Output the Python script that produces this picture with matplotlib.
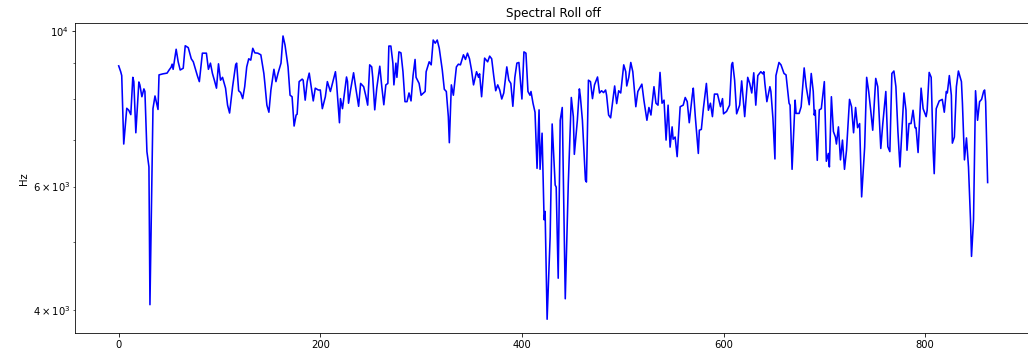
import matplotlib
matplotlib.use("Agg")
import matplotlib.pyplot as plt

# frame index and spectral roll-off (Hz)
frames = [
    0, 2, 3, 5, 8, 10, 12, 14, 15, 17, 20, 21, 23, 25, 26, 28, 30, 31, 34, 36,
    39, 40, 44, 48, 50, 52, 53, 54, 57, 59, 61, 64, 66, 69, 72, 74, 78, 80, 83, 87,
    89, 91, 93, 95, 97, 99, 101, 103, 106, 108, 110, 113, 116, 117, 119, 121, 123, 125, 127, 129,
    131, 133, 135, 138, 141, 144, 145, 147, 149, 151, 154, 156, 158, 161, 163, 165, 167, 168, 170, 172,
    174, 176, 177, 179, 182, 183, 185, 187, 189, 191, 193, 195, 198, 200, 202, 205, 207, 210, 212, 215,
    216, 219, 220, 222, 226, 227, 228, 230, 233, 235, 238, 240, 243, 245, 247, 249, 251, 252, 254, 256,
    259, 261, 263, 265, 267, 268, 270, 272, 273, 275, 276, 278, 280, 282, 284, 286, 288, 290, 292, 294,
    295, 298, 300, 304, 305, 308, 310, 312, 314, 316, 318, 321, 323, 325, 327, 328, 330, 332, 335, 337,
    339, 342, 344, 346, 348, 350, 352, 355, 357, 358, 360, 363, 366, 368, 370, 372, 374, 376, 378, 380,
    382, 385, 387, 389, 391, 393, 395, 397, 400, 402, 404, 406, 408, 409, 411, 413, 415, 417, 418, 420,
    422, 423, 425, 428, 430, 433, 434, 436, 438, 440, 443, 446, 449, 451, 452, 455, 457, 458, 460, 463,
    464, 466, 468, 470, 472, 475, 477, 479, 481, 483, 484, 486, 488, 490, 492, 494, 496, 498, 501, 503,
    504, 506, 508, 510, 513, 515, 519, 521, 524, 526, 528, 531, 533, 535, 537, 539, 541, 543, 545, 547,
    549, 550, 552, 554, 557, 560, 562, 564, 566, 569, 570, 572, 575, 576, 578, 580, 583, 585, 587, 589,
    591, 594, 597, 599, 600, 603, 606, 608, 609, 611, 613, 616, 618, 621, 624, 626, 628, 630, 632, 634,
    637, 639, 640, 641, 643, 646, 647, 649, 651, 652, 655, 657, 660, 662, 665, 666, 668, 671, 672, 675,
    677, 680, 682, 685, 687, 689, 690, 691, 693, 695, 697, 700, 702, 704, 705, 707, 709, 711, 712, 714,
    716, 718, 720, 722, 725, 727, 729, 731, 733, 735, 737, 740, 742, 744, 746, 748, 751, 753, 756, 758,
    761, 763, 765, 767, 769, 771, 773, 775, 777, 779, 781, 782, 784, 786, 788, 790, 791, 793, 796, 798,
    801, 802, 804, 806, 808, 809, 811, 814, 817, 819, 821, 822, 824, 826, 827, 829, 831, 833, 836, 837,
    839, 841, 843, 845, 846, 848, 850, 852, 854, 856, 858, 859, 860, 862,
]

rolloff_hz = [
    8920, 8750, 8640, 6900, 7760, 7710, 7600, 8590, 8470, 7160, 8460, 8380, 8060, 8270, 8200, 6730, 6400, 4070, 7750, 8080,
    7730, 8660, 8690, 8710, 8800, 8880, 8970, 8820, 9420, 9040, 8800, 8850, 9530, 9470, 9130, 9040, 8640, 8470, 9300, 9300,
    8820, 9000, 8700, 8500, 8290, 8980, 8510, 8590, 8290, 7840, 7640, 8330, 8950, 9000, 8220, 8170, 8010, 8330, 8890, 9130,
    9090, 9450, 9310, 9300, 9250, 8700, 8420, 7840, 7660, 8240, 8820, 8470, 8700, 9000, 9840, 9550, 9090, 8890, 8100, 8060,
    7320, 7590, 7610, 8470, 8540, 8510, 7970, 8470, 8710, 8330, 7950, 8290, 8240, 8240, 7750, 8060, 8470, 8200, 8420, 8750,
    8470, 7400, 8010, 7750, 8600, 8470, 7890, 8240, 8720, 8330, 7810, 8420, 8330, 8100, 7840, 8950, 8890, 8590, 7720, 8290,
    8910, 8330, 7850, 8380, 8420, 9520, 9520, 9000, 8380, 9000, 8590, 9340, 9310, 8750, 7930, 7930, 8160, 7950, 8640, 9110,
    8590, 8420, 8100, 8200, 8750, 9040, 8950, 9710, 9610, 9710, 9450, 8800, 8260, 8200, 7550, 6930, 8380, 8100, 8890, 8970,
    8950, 9250, 9110, 9300, 9130, 8800, 8380, 8750, 8590, 8690, 8060, 9150, 9040, 9210, 9130, 8640, 8220, 8380, 8240, 8000,
    8160, 8890, 8510, 8420, 7810, 8590, 9000, 9020, 8000, 9340, 9300, 8200, 8100, 8200, 7890, 7660, 6370, 7720, 6350, 7150,
    5380, 5530, 3880, 5090, 7370, 6030, 5990, 4440, 7460, 7780, 4150, 6060, 8040, 7550, 6670, 7460, 8270, 8060, 7460, 6130,
    6090, 8510, 8470, 8010, 8380, 8600, 8160, 8220, 8170, 8240, 8100, 7590, 7520, 7930, 8350, 7880, 8220, 8160, 8950, 8750,
    8350, 8590, 9020, 8750, 7800, 8200, 8400, 7970, 7460, 7780, 7590, 8330, 7890, 7840, 8730, 7890, 7970, 6990, 7840, 6830,
    7300, 7010, 7060, 6620, 7800, 7840, 8040, 7930, 7400, 8100, 8290, 7550, 6690, 7220, 7240, 7750, 8420, 7710, 7890, 7550,
    8130, 8130, 7800, 8010, 7620, 7680, 7840, 8950, 9020, 8510, 7620, 7840, 8490, 7550, 8590, 8420, 8160, 8720, 7840, 8640,
    8750, 8690, 8750, 8420, 7930, 8330, 8200, 7510, 6570, 8640, 9020, 8950, 8700, 8660, 7890, 7840, 6350, 7970, 7630, 7630,
    7800, 8860, 8330, 7850, 8700, 8200, 7590, 7710, 6540, 7720, 7750, 8470, 6520, 6690, 6400, 8060, 7190, 7060, 6900, 7300,
    6550, 6990, 6350, 6760, 7990, 7800, 7160, 7780, 7280, 7380, 5800, 6830, 8590, 8200, 7710, 7220, 8560, 8330, 6800, 7380,
    8200, 6840, 6730, 8700, 8770, 8330, 7190, 6400, 7220, 8160, 7710, 6760, 7380, 7380, 7710, 7280, 7280, 6710, 8290, 7750,
    7550, 7710, 8730, 8590, 6730, 6260, 7750, 7950, 7990, 7660, 8200, 8160, 8640, 8100, 6920, 7060, 8330, 8770, 8470, 7890,
    6550, 7040, 6400, 5380, 4770, 5380, 8220, 7460, 7930, 7990, 8200, 8240, 7930, 6080,
]

fig = plt.figure(figsize=(1028 / 72, 358 / 72), dpi=72)
ax = fig.add_axes([0.0733, 0.069, 0.9296, 0.866])

ax.plot(frames, rolloff_hz, color='b', linewidth=1.6)
ax.set_yscale('log')
ax.set_xlim(-43, 905)
ax.set_ylim(3705, 10260)
ax.set_xticks([0, 200, 400, 600, 800])

ax.set_title("Spectral Roll off", fontsize=12)
ax.set_ylabel("Hz", fontsize=10)

fig.savefig("out.png", dpi=72)
